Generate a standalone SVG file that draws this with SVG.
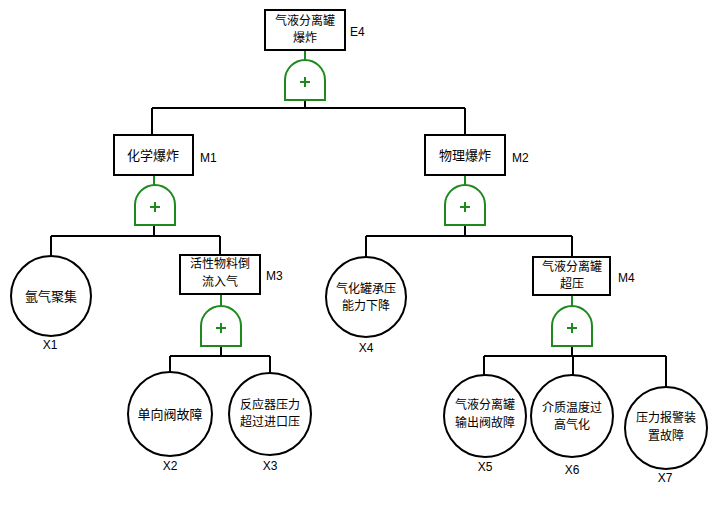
<svg xmlns="http://www.w3.org/2000/svg" width="715" height="528" viewBox="0 0 715 528">
<style>
.bg{fill:#fff}
.box{fill:#fff;stroke:#000;stroke-width:2}
.ev{fill:#fff;stroke:#000;stroke-width:2}
.gate{fill:#fff;stroke:#1e8a1e;stroke-width:2}
.plus{stroke:#1e8a1e;stroke-width:2;fill:none}
.gl{stroke:#1e8a1e;stroke-width:2;fill:none}
.ln{stroke:#000;stroke-width:2;fill:none}
.t{font-family:"Noto Sans CJK SC","Microsoft YaHei",sans-serif;font-size:13px;fill:#000;text-anchor:middle}
.t2{font-family:"Noto Sans CJK SC","Microsoft YaHei",sans-serif;font-size:12px;fill:#000;text-anchor:middle}
.lb{font-family:"Liberation Sans",Arial,sans-serif;font-size:12px;fill:#000}
.lbc{font-family:"Liberation Sans",Arial,sans-serif;font-size:12px;fill:#000;text-anchor:middle}
</style>
<defs>
<g id="orgate">
<path class="gate" d="M-20,20 L-20,0 A20,20 0 0 1 20,0 L20,20 Z"/>
<path class="plus" d="M-5,2 H5 M0,-3 V7"/>
</g>
</defs>
<rect class="bg" width="715" height="528"/>
<g id="connectors">
<path class="gl" d="M305,50 V60 M154,175 V186 M221,294 V305 M465,175 V186 M572,295 V306"/>
<path class="ln" d="M305,100 V108 M152,108 H465 M152,108 V135 M465,108 V135"/>
<path class="ln" d="M154,225 V236 M51,236 H220 M51,236 V256 M220,236 V255"/>
<path class="ln" d="M221,346 V356 M170,356 H270 M170,356 V373 M270,356 V373"/>
<path class="ln" d="M465,225 V236 M366,236 H572 M366,236 V257 M572,236 V257"/>
<path class="ln" d="M572,347 V356 M484,356 H666 M484,356 V375 M573,356 V375 M666,356 V388"/>
</g>
<g id="E4">
<rect class="box" x="265" y="10" width="80" height="40"/>
<text class="t2" x="305" y="24.7">气液分离罐</text>
<text class="t2" x="305" y="42.3">爆炸</text>
<text class="lb" x="350" y="36">E4</text>
</g>
<g id="G1"><use href="#orgate" x="305" y="80"/></g>
<g id="M1">
<rect class="box" x="114" y="135" width="79" height="40"/>
<text class="t" x="153" y="160">化学爆炸</text>
<text class="lb" x="200" y="162">M1</text>
</g>
<g id="G2"><use href="#orgate" x="155" y="205"/></g>
<g id="M2">
<rect class="box" x="425" y="135" width="80" height="40"/>
<text class="t" x="465" y="160">物理爆炸</text>
<text class="lb" x="512" y="162">M2</text>
</g>
<g id="G3"><use href="#orgate" x="465" y="205"/></g>
<g id="X1">
<circle class="ev" cx="51" cy="296" r="40"/>
<text class="t" x="51" y="301">氩气聚集</text>
<text class="lbc" x="50" y="349">X1</text>
</g>
<g id="M3">
<rect class="box" x="180" y="255" width="80" height="39"/>
<text class="t2" x="220" y="268.2">活性物料倒</text>
<text class="t2" x="220" y="285.8">流入气</text>
<text class="lb" x="266" y="280">M3</text>
</g>
<g id="G4"><use href="#orgate" x="221" y="326"/></g>
<g id="X2">
<circle class="ev" cx="170" cy="414" r="42"/>
<text class="t" x="170" y="419">单向阀故障</text>
<text class="lbc" x="170" y="470">X2</text>
</g>
<g id="X3">
<circle class="ev" cx="270" cy="414" r="41"/>
<text class="t2" x="270" y="408.7">反应器压力</text>
<text class="t2" x="270" y="426.3">超过进口压</text>
<text class="lbc" x="270" y="470">X3</text>
</g>
<g id="X4">
<circle class="ev" cx="366" cy="297" r="40"/>
<text class="t2" x="366" y="292.7">气化罐承压</text>
<text class="t2" x="366" y="310.3">能力下降</text>
<text class="lbc" x="366" y="352">X4</text>
</g>
<g id="M4">
<rect class="box" x="533" y="257" width="77" height="38"/>
<text class="t2" x="572" y="270.7">气液分离罐</text>
<text class="t2" x="572" y="288.3">超压</text>
<text class="lb" x="618" y="282">M4</text>
</g>
<g id="G5"><use href="#orgate" x="572" y="326"/></g>
<g id="X5">
<circle class="ev" cx="485" cy="416" r="41"/>
<text class="t2" x="485" y="409.2">气液分离罐</text>
<text class="t2" x="485" y="426.8">输出阀故障</text>
<text class="lbc" x="485" y="471">X5</text>
</g>
<g id="X6">
<circle class="ev" cx="572" cy="416" r="41"/>
<text class="t2" x="572" y="411.7">介质温度过</text>
<text class="t2" x="572" y="429.3">高气化</text>
<text class="lbc" x="572" y="474">X6</text>
</g>
<g id="X7">
<circle class="ev" cx="666" cy="428" r="41"/>
<text class="t2" x="666" y="422.2">压力报警装</text>
<text class="t2" x="666" y="439.8">置故障</text>
<text class="lbc" x="665" y="482">X7</text>
</g>
</svg>
